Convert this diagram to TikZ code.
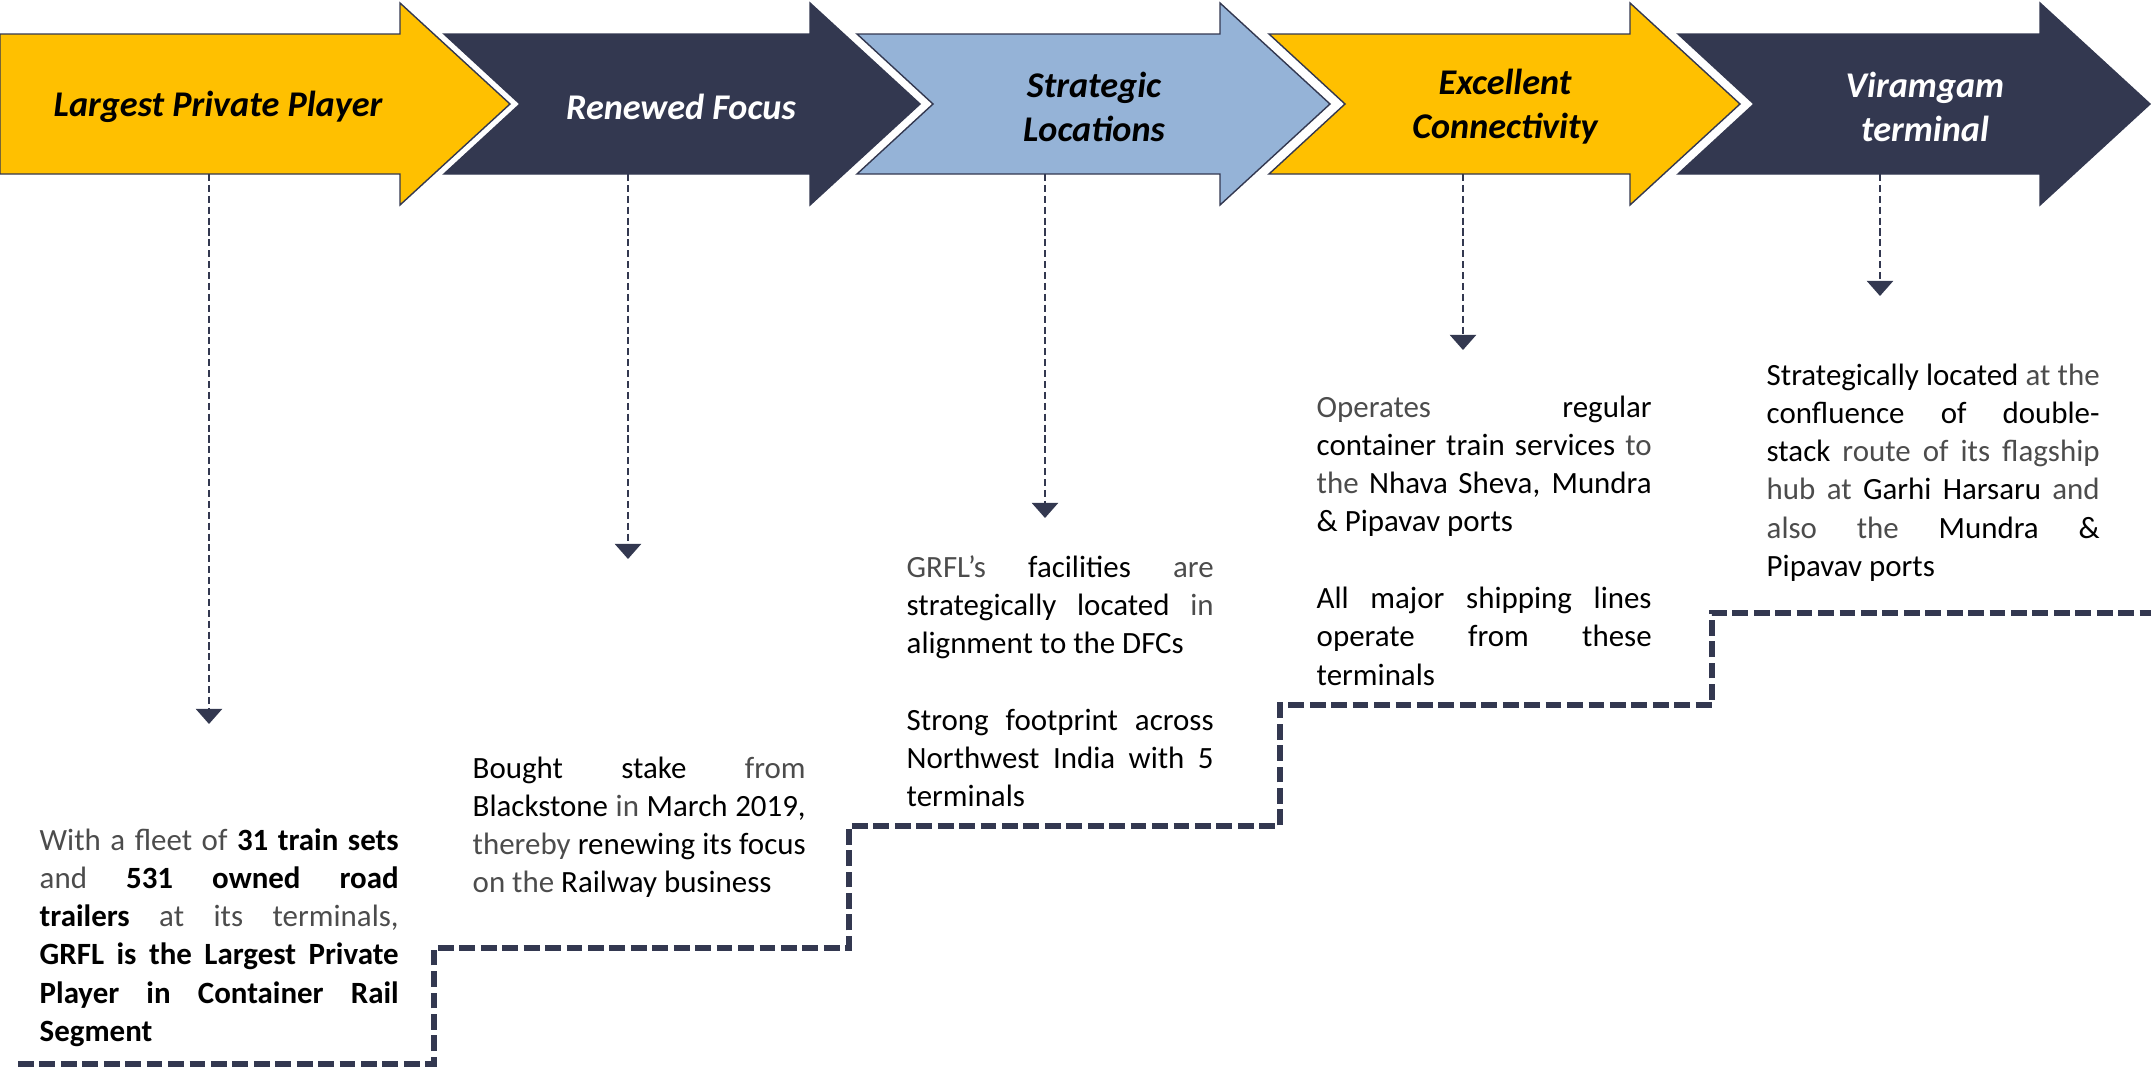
\documentclass[tikz,border=0pt]{standalone}
\usepackage{fontspec}
\setmainfont{Carlito}
\usetikzlibrary{arrows.meta,positioning,calc}

\definecolor{navy}{HTML}{333850}
\definecolor{gold}{HTML}{FFC000}
\definecolor{skyblue}{HTML}{95B3D7}
\definecolor{litegray}{gray}{0.3}
\newcommand\lite[1]{\textcolor{litegray}{#1}}
\tolerance=10000
\hbadness=10000
\hyphenpenalty=10000
\setlength\parindent{0pt}

\begin{document}
\begin{tikzpicture}[x=0.1mm,y=-0.1mm,
	chevron/.style={draw=navy,line width=0.4pt},
	title/.style={font=\fontsize{10.3}{12.5}\selectfont\bfseries\itshape,align=center,inner sep=0},
	blurb/.style={anchor=base west,inner sep=0,align=justify,font=\fontsize{8.8}{10.9}\selectfont},
	lead/.style={navy,line width=0.75pt,dash pattern=on 2pt off 1.1pt,-{Triangle[width=7.4pt,length=4.3pt]}},
	stairs/.style={navy,line width=1.5pt,dash pattern=on 4.5pt off 1.6pt}]
	\useasboundingbox (0,0) rectangle (2151,1067);

	% The row of arrows
	\fill[chevron,fill=gold]    (0,34) -- (400,34) -- (400,3) -- (510,104) -- (400,205) -- (400,174) -- (0,174) -- cycle;
	\fill[chevron,fill=navy]    (444,34) -- (810,34) -- (810,3) -- (920,104) -- (810,205) -- (810,174) -- (444,174) -- (520,104) -- cycle;
	\fill[chevron,fill=skyblue] (857,34) -- (1220,34) -- (1220,3) -- (1330,104) -- (1220,205) -- (1220,174) -- (857,174) -- (933,104) -- cycle;
	\fill[chevron,fill=gold]    (1269,34) -- (1630,34) -- (1630,3) -- (1740,104) -- (1630,205) -- (1630,174) -- (1269,174) -- (1345,104) -- cycle;
	\fill[chevron,fill=navy]    (1678,34) -- (2040,34) -- (2040,3) -- (2150,104) -- (2040,205) -- (2040,174) -- (1678,174) -- (1754,104) -- cycle;

	% Arrow titles
	\node[title]       (lbl1) at (218,107)  {Largest Private Player};
	\node[title,white] (lbl2) at (681,107)  {Renewed Focus};
	\node[title]       (lbl3) at (1094,107) {Strategic\\Locations};
	\node[title]       (lbl4) at (1505,107) {Excellent\\Connectivity};
	\node[title,white] (lbl5) at (1925,107) {Viramgam\\terminal};

	% Feet of the arrows and ends of the leaders
	\coordinate (foot1) at (209,174);  \coordinate (tip1) at (209,724);
	\coordinate (foot2) at (628,174);  \coordinate (tip2) at (628,559);
	\coordinate (foot3) at (1045,174); \coordinate (tip3) at (1045,518);
	\coordinate (foot4) at (1463,174); \coordinate (tip4) at (1463,350);
	\coordinate (foot5) at (1880,174); \coordinate (tip5) at (1880,296);

	% Leaders
	\draw[lead] (foot1) -- (tip1);
	\draw[lead] (foot2) -- (tip2);
	\draw[lead] (foot3) -- (tip3);
	\draw[lead] (foot4) -- (tip4);
	\draw[lead] (foot5) -- (tip5);

	% The text under each arrow
	\node[blurb,text width=3.59cm] (txt1) at (39,850) {%
		\lite{With a fleet of} \textbf{31 train sets}\linebreak
		\lite{and} \textbf{531 owned road}\linebreak
		\textbf{trailers} \lite{at its terminals,}\linebreak
		\textbf{GRFL is the Largest Private}\linebreak
		\textbf{Player in Container Rail}\linebreak
		\textbf{Segment}};
	\node[blurb,text width=3.33cm] (txt2) at (472,778) {%
		Bought stake \lite{from}\linebreak
		Blackstone \lite{in} March 2019,\linebreak
		\lite{thereby} renewing its focus\linebreak
		\lite{on the} Railway business};
	\node[blurb,text width=3.07cm] (txt3) at (906,577) {%
		\lite{GRFL’s} facilities \lite{are}\linebreak
		strategically located \lite{in}\linebreak
		alignment to the DFCs\par\vspace{10.9pt}
		Strong footprint across\linebreak
		Northwest India with 5\linebreak
		terminals};
	\node[blurb,text width=3.35cm] (txt4) at (1316,417) {%
		\lite{Operates} regular\linebreak
		container train services \lite{to}\linebreak
		\lite{the} Nhava Sheva, Mundra\linebreak
		\& Pipavav ports\par\vspace{10.9pt}
		All major shipping lines\linebreak
		operate from these\linebreak
		terminals};
	\node[blurb,text width=3.33cm] (txt5) at (1766,385) {%
		Strategically located \lite{at the}\linebreak
		confluence of double-\linebreak
		stack \lite{route of its flagship}\linebreak
		\lite{hub at} Garhi Harsaru \lite{and}\linebreak
		\lite{also the} Mundra \&\linebreak
		Pipavav ports};

	% The staircase
	\draw[stairs] (18,1064) -- (434,1064) -- (434,948) -- (849,948) -- (849,826)
		-- (1280,826) -- (1280,705) -- (1712,705) -- (1712,613) -- (2151,613);
\end{tikzpicture}
\end{document}
